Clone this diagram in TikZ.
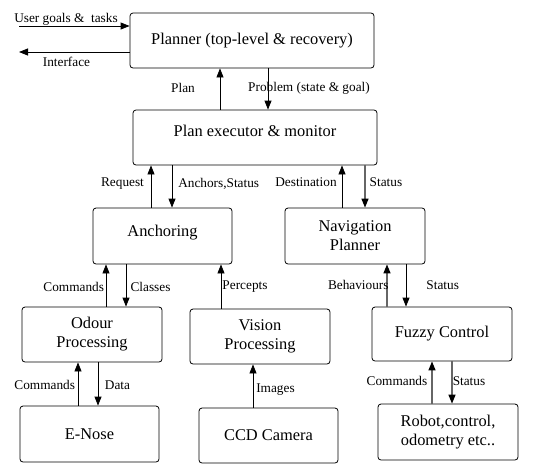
\documentclass[tikz,border=0pt]{standalone}
\usepackage{fontspec}
\setmainfont{Liberation Serif}
\usetikzlibrary{arrows.meta}
\tikzset{
  box/.style={draw, rounded corners=3pt, line width=0.8pt, align=center, inner sep=0pt,
    font=\fontsize{16.4}{19}\selectfont},
  lab/.style={font=\fontsize{13.3}{15}\selectfont, inner sep=0pt},
  arr/.style={line width=0.8pt, -{Triangle[length=9pt,width=7pt]}},
  garr/.style={line width=1.3pt, draw=black!60, -{Triangle[length=9pt,width=7pt,color=black]}},
}
\begin{document}
\begin{tikzpicture}[x=1pt,y=-1pt]
\useasboundingbox (0,0) rectangle (545,464);
% boxes
\node[box, minimum width=244pt, minimum height=55pt] (P) at (252,40.5) {Planner (top-level \& recovery)};
\node[box, minimum width=244pt, minimum height=55pt, text height=12pt, text depth=14pt] (PE) at (255,137.5) {Plan executor \& monitor};
\node[box, minimum width=139pt, minimum height=56pt, text height=12pt, text depth=12pt] (A) at (162.5,236) {Anchoring};
\node[box, minimum width=140pt, minimum height=56pt] (N) at (355,236) {Navigation\\Planner};
\node[box, minimum width=140pt, minimum height=55pt] (O) at (92,334.5) {Odour\\Processing};
\node[box, minimum width=140pt, minimum height=55pt] (V) at (260,336.5) {Vision\\Processing};
\node[box, minimum width=140pt, minimum height=54pt] (F) at (442,334) {Fuzzy Control};
\node[box, minimum width=139pt, minimum height=56pt] (E) at (89.5,434) {E-Nose};
\node[box, minimum width=139pt, minimum height=55pt] (C) at (268.5,435.5) {CCD Camera};
\node[box, minimum width=140pt, minimum height=56pt] (R) at (448,432) {Robot,control,\\odometry etc..};
% free ends
\coordinate (ug) at (19,26);
\coordinate (if) at (19,52);
% connectors
\draw[arr] (ug) -- (ug -| P.west);
\draw[arr] (if -| P.west) -- (if);
\draw[arr] (220,0 |- PE.north) -- (220,0 |- P.south);
\draw[arr] (268,0 |- P.south) -- (268,0 |- PE.north);
\draw[arr] (151,0 |- A.north) -- (151,0 |- PE.south);
\draw[arr] (172,0 |- PE.south) -- (172,0 |- A.north);
\draw[arr] (342,0 |- N.north) -- (342,0 |- PE.south);
\draw[garr] (365,0 |- PE.south) -- (365,0 |- N.north);
\draw[arr] (106,0 |- O.north) -- (106,0 |- A.south);
\draw[arr] (126,0 |- A.south) -- (126,0 |- O.north);
\draw[arr] (221,0 |- V.north) -- (221,0 |- A.south);
\draw[garr] (387,0 |- F.north) -- (387,0 |- N.south);
\draw[arr] (406,0 |- N.south) -- (406,0 |- F.north);
\draw[arr] (78,0 |- E.north) -- (78,0 |- O.south);
\draw[arr] (98,0 |- O.south) -- (98,0 |- E.north);
\draw[arr] (253,0 |- C.north) -- (253,0 |- V.south);
\draw[garr] (432,0 |- R.north) -- (432,0 |- F.south);
\draw[garr] (452,0 |- F.south) -- (452,0 |- R.north);
% labels
\node[lab] (l1) at (66,19) {User goals \& \ tasks};
\node[lab] (l2) at (66.5,62) {Interface};
\node[lab] (l3) at (183,88) {Plan};
\node[lab] (l4) at (309,88) {Problem (state \& goal)};
\node[lab] (l5) at (122.5,184) {Request};
\node[lab] (l6) at (218.7,184) {Anchors,Status};
\node[lab] (l7) at (306,182) {Destination};
\node[lab] (l8) at (386,182) {Status};
\node[lab] (l9) at (73.7,287) {Commands};
\node[lab] (l10) at (150.5,287) {Classes};
\node[lab] (l11) at (245,287) {Percepts};
\node[lab] (l12) at (358.3,285) {Behaviours};
\node[lab] (l13) at (442.7,285) {Status};
\node[lab] (l14) at (44.7,385) {Commands};
\node[lab] (l15) at (117.5,385) {Data};
\node[lab] (l16) at (275.5,390) {Images};
\node[lab] (l17) at (397,381) {Commands};
\node[lab] (l18) at (469,381) {Status};
\end{tikzpicture}
\end{document}
